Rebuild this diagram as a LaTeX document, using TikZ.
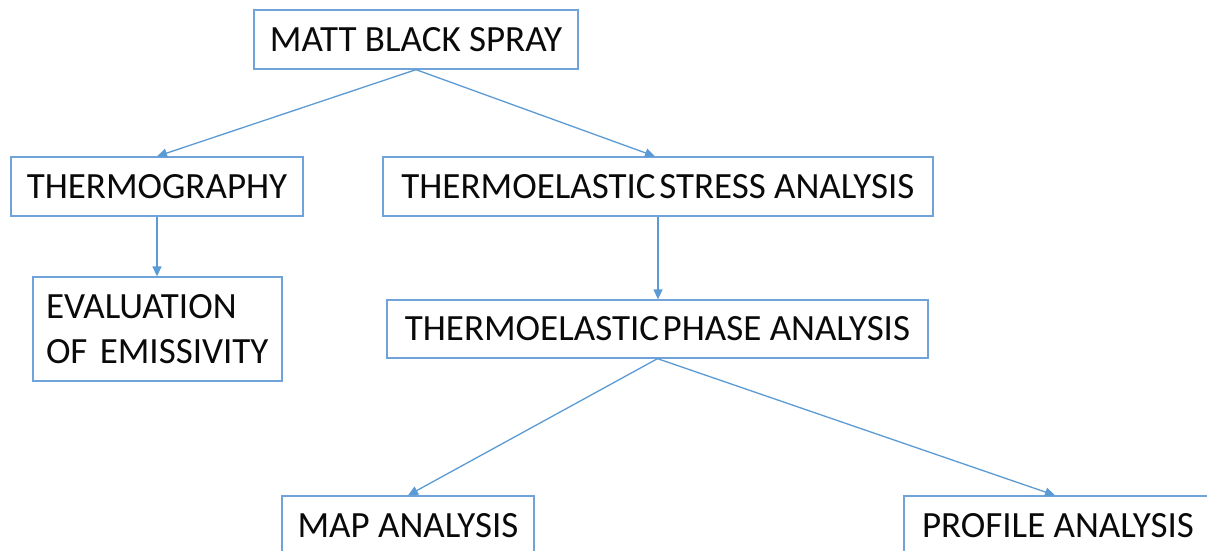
\documentclass[tikz,border=0pt]{standalone}
\usepackage{fontspec}
\setmainfont{Carlito}
\usetikzlibrary{arrows.meta}
\definecolor{linkblue}{HTML}{5B9BD5}
\definecolor{boxblue}{HTML}{6FA3DA}
\definecolor{ink}{HTML}{0A0A0A}
\tikzset{
  stagebox/.style={draw=boxblue, line width=1.3pt, rectangle, inner sep=0pt,
    text=ink, font=\fontsize{37}{45}\selectfont},
  link/.style={draw=linkblue, line width=1.3pt,
    -{Triangle[length=10pt,width=9pt]}}
}
\begin{document}
\begin{tikzpicture}[x=1pt,y=-1pt]
  \clip (0,0) rectangle (1207,551);
  \fill[white] (0,0) rectangle (1207,551);

  % process stages
  \node[stagebox, minimum width=324pt, minimum height=59pt] (spray) at (416,39.5) {MATT BLACK SPRAY};
  \node[stagebox, minimum width=292pt, minimum height=59pt] (thermo) at (157,186.5) {THERMOGRAPHY};
  \node[stagebox, minimum width=550pt, minimum height=59pt] (tsa) at (658,186.5) {THERMOELASTIC\hspace{0.1em}STRESS ANALYSIS};
  \node[stagebox, minimum width=249pt, minimum height=104pt, align=left, text width=223pt] (emis) at (157.5,329) {EVALUATION\\OF EMISSIVITY};
  \node[stagebox, minimum width=541pt, minimum height=58pt] (tpa) at (657.5,329) {THERMOELASTIC\hspace{0.1em}PHASE ANALYSIS};
  \node[stagebox, minimum width=252pt, minimum height=59pt] (map) at (408,525.5) {MAP ANALYSIS};
  \node[stagebox, minimum width=308pt, minimum height=59pt] (profile) at (1058,525.5) {PROFILE ANALYSIS};

  % connectors
  \draw[link] (spray.south) -- (thermo.north);
  \draw[link] (spray.south) -- ([xshift=-3pt]tsa.north);
  \draw[link] (thermo.south) -- (thermo.south |- emis.north);
  \draw[link] (tsa.south) -- (tsa.south |- tpa.north);
  \draw[link] (tpa.south) -- (map.north);
  \draw[link] (tpa.south) -- ([xshift=-3pt]profile.north);
\end{tikzpicture}
\end{document}
